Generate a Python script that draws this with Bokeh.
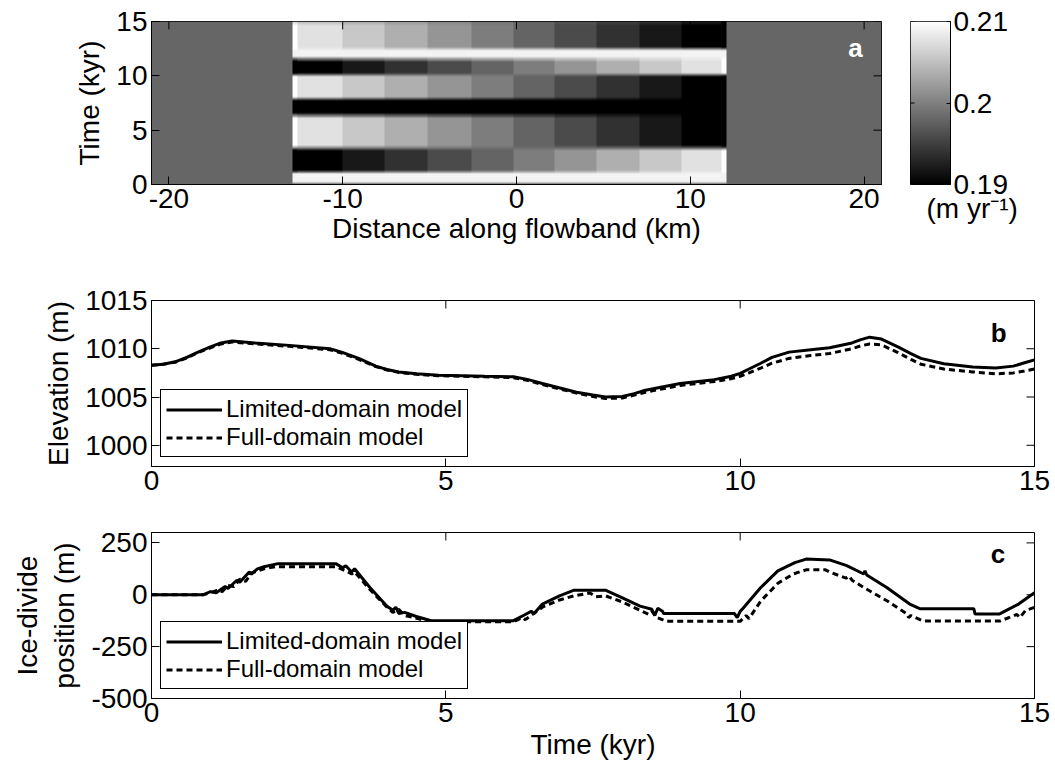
import numpy as np
from bokeh.plotting import figure
from bokeh.models import (LinearColorMapper, FixedTicker, Range1d,
                          PrintfTickFormatter, Title)
from bokeh.layouts import column, row
from bokeh.embed import file_html
from bokeh.resources import INLINE
from bokeh.core.properties import value

FONT = "Liberation Sans"

# ---------------- Panel a: accumulation field (m/yr) ----------------
col_edges_km = [-12.87, -12.58, -10.0, -7.6, -5.1, -2.6, -0.2, 2.2, 4.6, 7.1, 9.5, 11.84, 12.13]
col_tilt_weight = [-1.3, -1.0, -0.78, -0.56, -0.33, -0.11, 0.11, 0.33, 0.56, 0.78, 1.0, 1.3]
knot_time_kyr = [0.0, 0.25, 1.0, 1.3, 3.1, 3.6, 6.1, 6.6, 7.7, 8.1, 9.9, 10.3,
                 11.3, 11.8, 12.3, 12.7, 14.6, 15.0]
knot_mean_rate = [0.1978, 0.209, 0.209, 0.1988, 0.1988, 0.1988, 0.1988, 0.19, 0.19,
                  0.1988, 0.1988, 0.1988, 0.1988, 0.209, 0.209, 0.1988, 0.1988, 0.1985]
knot_tilt_rate = [0.0, 0.0, 0.0, 0.0088, 0.0088, -0.0088, -0.0088, 0.0, 0.0,
                  -0.0088, -0.0088, 0.0088, 0.0088, 0.0, 0.0, -0.0088, -0.0088, -0.006]
outside_rate = 0.198
rate_low, rate_high = 0.19, 0.21
rate_ticks = [0.19, 0.2, 0.21]

# ---------------- Panel b: elevation (m) ----------------
t_elev = [0, 0.2, 0.4, 0.6, 0.79, 1.0, 1.18, 1.37, 1.76, 2.34, 3.03, 3.23, 3.52, 3.81,
          4.0, 4.2, 4.5, 4.88, 5.66, 6.15, 6.4, 6.64, 7.22, 7.5, 7.71, 8.0, 8.2, 8.39,
          8.98, 9.56, 9.85, 10.0, 10.15, 10.35, 10.54, 10.83, 11.2, 11.52, 11.9, 12.05,
          12.2, 12.4, 12.68, 12.9, 13.07, 13.46, 13.95, 14.34, 14.64, 14.83, 15.0]
elev_limited = [1008.3, 1008.4, 1008.65, 1009.1, 1009.65, 1010.2, 1010.6, 1010.8,
                1010.6, 1010.35, 1010.0, 1009.65, 1009.0, 1008.2, 1007.85, 1007.6,
                1007.4, 1007.25, 1007.15, 1007.1, 1006.8, 1006.4, 1005.5, 1005.2,
                1005.0, 1005.05, 1005.35, 1005.7, 1006.4, 1006.8, 1007.15, 1007.45,
                1007.9, 1008.5, 1009.1, 1009.65, 1009.9, 1010.1, 1010.6, 1010.95,
                1011.2, 1011.0, 1010.2, 1009.5, 1009.0, 1008.45, 1008.1, 1008.0,
                1008.2, 1008.55, 1008.85]
elev_full = [1008.3, 1008.4, 1008.6, 1009.05, 1009.6, 1010.1, 1010.5, 1010.7, 1010.5,
             1010.25, 1009.9, 1009.55, 1008.9, 1008.15, 1007.8, 1007.55, 1007.35,
             1007.2, 1007.1, 1007.0, 1006.7, 1006.3, 1005.4, 1005.05, 1004.85, 1004.9,
             1005.2, 1005.5, 1006.2, 1006.6, 1006.9, 1007.15, 1007.5, 1008.0, 1008.5,
             1009.0, 1009.3, 1009.5, 1010.0, 1010.3, 1010.5, 1010.4, 1009.6, 1008.9,
             1008.4, 1007.9, 1007.6, 1007.4, 1007.5, 1007.7, 1007.9]

# ---------------- Panel c: ice-divide position (m) ----------------
t_div_limited = [0, 0.88, 1.0, 1.1, 1.25, 1.3, 1.45, 1.5, 1.66, 1.7, 1.8, 1.91, 2.15,
                 3.13, 3.25, 3.3, 3.4, 3.45, 3.71, 4.0, 4.1, 4.15, 4.2, 4.3, 4.5, 4.75,
                 6.15, 6.35, 6.45, 6.5, 6.64, 6.93, 7.18, 7.71, 8.0, 8.3, 8.5, 8.55,
                 8.6, 8.68, 8.7, 9.9, 9.95, 10.0, 10.05, 10.35, 10.64, 10.93, 11.12,
                 11.52, 11.81, 12.1, 12.12, 12.15, 12.49, 12.88, 13.06, 13.97, 13.99,
                 14.4, 14.73, 15.0]
div_limited = [0, 0, 15, 10, 40, 30, 70, 60, 110, 100, 125, 135, 150,
               150, 130, 140, 110, 125, 35, -55, -75, -60, -90, -85, -105, -125,
               -125, -95, -80, -90, -45, -5, 22, 22, -15, -55, -70, -100,
               -65, -80, -90, -90, -110, -80, -65, 35, 115, 155, 172,
               168, 140, 100, 115, 95, 35, -45, -68, -68, -93,
               -93, -45, 10]
t_div_full = [0, 0.88, 1.0, 1.1, 1.2, 1.3, 1.4, 1.5, 1.6, 1.7, 1.91, 2.1, 3.13, 3.3,
              3.4, 3.45, 3.71, 4.0, 4.1, 4.2, 4.3, 4.75, 6.15, 6.3, 6.35, 6.64, 6.93,
              7.18, 7.45, 7.55, 7.71, 8.0, 8.3, 8.45, 8.5, 8.59, 8.75, 10.0, 10.1,
              10.15, 10.35, 10.64, 10.9, 11.12, 11.45, 11.53, 11.8, 11.85, 11.9, 12.1,
              12.5, 12.84, 12.86, 12.9, 13.1, 14.42, 14.7, 14.75, 14.85, 15.0]
div_full = [0, 0, 10, 20, 15, 45, 40, 75, 65, 105, 125, 135, 135, 115,
            100, 110, 25, -60, -85, -70, -100, -130, -130, -110, -120, -60, -25,
            -5, 8, -10, -5, -35, -75, -95, -80, -110, -128, -128, -100,
            -115, -30, 55, 100, 120, 120, 108, 80, 90, 70, 35,
            -30, -94, -110, -100, -126, -126, -95, -110, -75, -61]


def build_field():
    nx, nt = 420, 300
    xc = -21 + (np.arange(nx) + 0.5) * 42.0 / nx
    tc = (np.arange(nt) + 0.5) * 15.0 / nt
    mean_t = np.interp(tc, knot_time_kyr, knot_mean_rate)
    tilt_t = np.interp(tc, knot_time_kyr, knot_tilt_rate)
    edges = np.array(col_edges_km)
    inside = (xc >= edges[0]) & (xc < edges[-1])
    idx = np.clip(np.searchsorted(edges, xc, side="right") - 1, 0, len(col_tilt_weight) - 1)
    w = np.where(inside, np.array(col_tilt_weight)[idx], 0.0)
    field = mean_t[:, None] + tilt_t[:, None] * w[None, :]
    field = np.clip(field, rate_low, rate_high)
    field[:, ~inside] = outside_rate
    return field


def mirror_ticks(p, xt, yt, frame_w, frame_h, tick_px):
    """Inward ticks on the top and right frame edges (MATLAB style box)."""
    x0, x1 = p.x_range.start, p.x_range.end
    y0, y1 = p.y_range.start, p.y_range.end
    dx = (x1 - x0) * tick_px / frame_w
    dy = (y1 - y0) * tick_px / frame_h
    if xt:
        p.segment(x0=xt, y0=[y1] * len(xt), x1=xt, y1=[y1 - dy] * len(xt),
                  line_color="black", line_width=1)
    if yt:
        p.segment(x0=[x1] * len(yt), y0=yt, x1=[x1 - dx] * len(yt), y1=yt,
                  line_color="black", line_width=1)


def style(p, xt, yt, frame_w, frame_h):
    p.outline_line_color = "black"
    p.outline_line_alpha = 1
    p.outline_line_width = 1
    p.xgrid.visible = False
    p.ygrid.visible = False
    p.background_fill_color = "white"
    p.border_fill_color = "white"
    p.xaxis.ticker = FixedTicker(ticks=xt)
    p.yaxis.ticker = FixedTicker(ticks=yt)
    for ax in list(p.xaxis) + list(p.yaxis):
        ax.formatter = PrintfTickFormatter(format="%d")
        ax.major_tick_in = 8
        ax.major_tick_out = 0
        ax.minor_tick_line_color = None
        ax.major_tick_line_color = "black"
        ax.axis_line_color = "black"
        ax.major_label_text_font = FONT
        ax.major_label_text_font_size = "28px"
        ax.major_label_text_color = "black"
        ax.axis_label_text_font = FONT
        ax.axis_label_text_font_size = "28px"
        ax.axis_label_text_font_style = "normal"
        ax.axis_label_text_color = "black"
        ax.major_label_standoff = 4
        ax.axis_label_standoff = 8
    mirror_ticks(p, xt, yt, frame_w, frame_h, 8)


palette = ["#%02x%02x%02x" % (i, i, i) for i in range(256)]
mapper = LinearColorMapper(palette=palette, low=rate_low, high=rate_high)

# ---- figure a
fa = figure(width=890, height=280, x_range=Range1d(-21, 21), y_range=Range1d(0, 15),
            toolbar_location=None, output_backend="svg",
            min_border_left=151, min_border_right=9, min_border_top=19,
            min_border_bottom=96)
fa.image(image=[build_field()], x=-21, y=0, dw=42, dh=15, color_mapper=mapper)
style(fa, [-20, -10, 0, 10, 20], [0, 5, 10, 15], 730, 165)
fa.below[0].axis_label = "Distance along flowband (km)"
fa.below[0].axis_label_standoff = 2
fa.left[0].axis_label = "Time (kyr)"
fa.text(x=[19.5], y=[12.6], text=["a"], text_color="white",
        text_font=value(FONT), text_font_style="bold", text_font_size="26px",
        text_align="center", text_baseline="middle")

# ---- colour bar
fcb = figure(width=165, height=280, x_range=Range1d(0, 1),
             y_range=Range1d(rate_low, rate_high), x_axis_location=None,
             y_axis_location="right", toolbar_location=None, output_backend="svg",
             min_border_left=20, min_border_right=105, min_border_top=21,
             min_border_bottom=93)
fcb.image(image=[np.linspace(rate_low, rate_high, 256).reshape(-1, 1)], x=0, y=rate_low,
          dw=1, dh=rate_high - rate_low, color_mapper=mapper)
fcb.xgrid.visible = False
fcb.ygrid.visible = False
fcb.outline_line_color = "black"
fcb.outline_line_alpha = 1
cb_ax = fcb.yaxis[0]
cb_ax.ticker = FixedTicker(ticks=rate_ticks)
cb_ax.formatter = PrintfTickFormatter(format="%g")
cb_ax.major_tick_in = 4
cb_ax.major_tick_out = 0
cb_ax.minor_tick_line_color = None
cb_ax.axis_line_color = "black"
cb_ax.major_label_text_font = FONT
cb_ax.major_label_text_font_size = "28px"
cb_ax.major_label_text_color = "black"
cb_ax.major_label_standoff = 3
fcb.segment(x0=[0] * 3, y0=rate_ticks, x1=[4 / 40] * 3, y1=rate_ticks,
            line_color="black", line_width=1)
fcb.add_layout(Title(text="(m yr\u207b\u00b9)", align="left", offset=16,
                     text_font=FONT, text_font_size="28px", text_font_style="normal",
                     text_color="black", standoff=12), "below")


def legend_style(p):
    lg = p.legend[0]
    lg.location = "bottom_left"
    lg.margin = 9
    lg.padding = 5
    lg.spacing = 0
    lg.label_text_font = FONT
    lg.label_text_font_size = "24px"
    lg.label_text_color = "black"
    lg.glyph_width = 56
    lg.glyph_height = 25
    lg.label_height = 25
    lg.label_standoff = 4
    lg.border_line_color = "black"
    lg.border_line_width = 1
    lg.border_line_alpha = 1
    lg.background_fill_alpha = 1


# ---- figure b
fb = figure(width=1055, height=226, x_range=Range1d(0, 15), y_range=Range1d(997.8, 1015),
            toolbar_location=None, output_backend="svg",
            min_border_left=151, min_border_right=21, min_border_top=20,
            min_border_bottom=40)
fb.line(t_elev, elev_limited, line_color="black", line_width=3,
        legend_label="Limited-domain model")
fb.line(t_elev, elev_full, line_color="black", line_width=3, line_dash="6 4",
        legend_label="Full-domain model")
style(fb, [0, 5, 10, 15], [1000, 1005, 1010, 1015], 883, 166)
fb.left[0].axis_label = "Elevation (m)"
legend_style(fb)
fb.text(x=[14.39], y=[1011.6], text=["b"], text_color="black",
        text_font=value(FONT), text_font_style="bold", text_font_size="26px",
        text_align="center", text_baseline="middle")

# ---- figure c
fc = figure(width=1055, height=267, x_range=Range1d(0, 15), y_range=Range1d(-500, 300),
            toolbar_location=None, output_backend="svg",
            min_border_left=151, min_border_right=21, min_border_top=26,
            min_border_bottom=75)
fc.line(t_div_limited, div_limited, line_color="black", line_width=3,
        legend_label="Limited-domain model")
fc.line(t_div_full, div_full, line_color="black", line_width=3, line_dash="6 4",
        legend_label="Full-domain model")
style(fc, [0, 5, 10, 15], [-500, -250, 0, 250], 883, 166)
fc.left[0].axis_label = "Ice-divide\nposition (m)"
fc.below[0].axis_label = "Time (kyr)"
fc.below[0].axis_label_standoff = 4
legend_style(fc)
fc.text(x=[14.38], y=[196], text=["c"], text_color="black",
        text_font=value(FONT), text_font_style="bold", text_font_size="26px",
        text_align="center", text_baseline="middle")

layout = column(row(fa, fcb), fb, fc)
open("out.html", "w").write(file_html(layout, INLINE))
